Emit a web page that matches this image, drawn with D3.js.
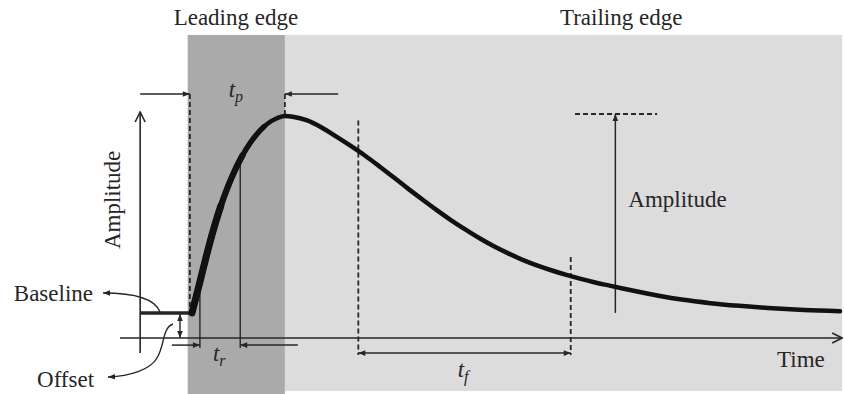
<!DOCTYPE html>
<html><head><meta charset="utf-8">
<script src="https://cdn.jsdelivr.net/npm/d3@7"></script>
<style>
html,body{margin:0;padding:0;background:#fff;}
svg{display:block;font-family:"Liberation Serif","Times New Roman",serif;}
</style></head><body>
<svg id="chart" width="844" height="394"></svg>
<script>
// Pulse waveform: time (arbitrary units) and amplitude (% of peak, measured from zero)
const time = [10.0, 11.0, 12.0, 13.0, 14.0, 15.0, 16.0, 17.0, 18.0, 19.0, 20.0, 21.0, 22.0, 22.9,
  24, 26, 28, 30, 32, 34, 36, 38, 40, 42, 44, 46, 48, 50, 52, 54, 56, 58, 60, 62, 64, 66, 68,
  70, 72, 75, 78, 82, 86, 90, 95, 100];
const amplitude = [11.3, 24.0, 37.0, 49.0, 59.5, 68.3, 75.8, 82.2, 87.5, 91.8, 95.2, 97.7, 99.3, 100.0,
  99.7, 98.0, 94.8, 90.8, 86.6, 82.2, 77.4, 72.4, 67.3, 62.4, 57.6, 53.0, 48.8, 44.8, 41.2, 38.0,
  35.1, 32.6, 30.4, 28.4, 26.6, 25.0, 23.6, 22.2, 20.8, 18.9, 17.3, 15.7, 14.5, 13.5, 12.6, 12.1];

const baselineLevel = 11.3;      // offset of the baseline above zero
const baselineStart = 2.8;
const leadingEdgeStart = 9.4;
const trailingEdgeEnd = 100.3;
const riseMarks = [11.1, 16.7];  // rise-time markers (t_r)
const fallMarks = [33.1, 62.6];  // fall-time markers (t_f)
const fallMarkTops = [98.0, 36.5];
const ampMarkTime = 68.8;
const regionNames = ["Leading edge", "Trailing edge"];
const regionLabelTimes = [16.1, 69.6];

const W = 844, H = 394;
const x = d3.scaleLinear().domain([0, 100]).range([120, 840]);
const y = d3.scaleLinear().domain([0, 100]).range([338, 116]);

const pulse = time.map((t, i) => ({t, a: amplitude[i]}));
const peak = pulse.reduce((m, d) => d.a > m.a ? d : m, pulse[0]);
const peakTime = peak.t, peakAmp = peak.a;

// value of the pulse at a given time (linear between samples)
function pulseAt(t) {
  const i = d3.bisector(d => d.t).left(pulse, t);
  if (i <= 0) return pulse[0].a;
  if (i >= pulse.length) return pulse[pulse.length - 1].a;
  const p0 = pulse[i - 1], p1 = pulse[i];
  return p0.a + (p1.a - p0.a) * (t - p0.t) / (p1.t - p0.t);
}

const ink = "#262626";
const svg = d3.select("#chart");
const defs = svg.append("defs");

defs.append("marker").attr("id", "tri")
  .attr("viewBox", "0 0 10 10").attr("refX", 10).attr("refY", 5)
  .attr("markerWidth", 8).attr("markerHeight", 7).attr("markerUnits", "userSpaceOnUse")
  .attr("orient", "auto-start-reverse")
  .append("path").attr("d", "M0,1 L10,5 L0,9 Z").attr("fill", ink);

defs.append("marker").attr("id", "chev")
  .attr("viewBox", "0 0 12 12").attr("refX", 11).attr("refY", 6)
  .attr("markerWidth", 12).attr("markerHeight", 12).attr("markerUnits", "userSpaceOnUse")
  .attr("orient", "auto")
  .append("path").attr("d", "M1,1 L11,6 L1,11").attr("fill", "none")
  .attr("stroke", ink).attr("stroke-width", 1.6);

// shaded regions
svg.append("rect")
  .attr("x", x(peakTime)).attr("y", y(136.5))
  .attr("width", x(trailingEdgeEnd) - x(peakTime)).attr("height", y(-23.9) - y(136.5))
  .attr("fill", "#dcdcdc");
svg.append("rect")
  .attr("x", x(leadingEdgeStart)).attr("y", y(136.5))
  .attr("width", x(peakTime) - x(leadingEdgeStart)).attr("height", y(-25.5) - y(136.5))
  .attr("fill", "#aaaaaa");

// region titles
svg.selectAll("text.region").data(regionNames).join("text")
  .attr("class", "region")
  .attr("x", (d, i) => x(regionLabelTimes[i])).attr("y", y(141))
  .attr("text-anchor", "middle").attr("font-size", 23).attr("fill", ink)
  .text(d => d);

function seg(x1, y1, x2, y2, opts = {}) {
  const l = svg.append("line")
    .attr("x1", x1).attr("y1", y1).attr("x2", x2).attr("y2", y2)
    .attr("stroke", ink).attr("stroke-width", opts.w || 1.5);
  if (opts.dash) l.attr("stroke-dasharray", opts.dash);
  if (opts.end) l.attr("marker-end", `url(#${opts.end})`);
  if (opts.start) l.attr("marker-start", `url(#${opts.start})`);
  return l;
}
const dash = "5,3";

// time axis and amplitude axis
seg(x(0), y(0), x(trailingEdgeEnd), y(0), {end: "chev", w: 1.6});
seg(x(baselineStart), y(-6.8), x(baselineStart), y(101.8), {end: "chev", w: 1.6});

// peak-time (t_p) markers
const tpY = y(109.9);
seg(x(leadingEdgeStart + 0.3), tpY, x(leadingEdgeStart + 0.3), y(baselineLevel), {dash, w: 1.8});
seg(x(peakTime), tpY, x(peakTime), y(peakAmp), {dash, w: 1.8});
seg(x(baselineStart), tpY, x(leadingEdgeStart + 0.3), tpY, {end: "tri"});
seg(x(30.3), tpY, x(peakTime), tpY, {end: "tri"});

// rise-time (t_r) markers
riseMarks.forEach(t => seg(x(t), y(pulseAt(t)), x(t), y(-4.5), {w: 1.4}));
seg(x(7.2), y(-3.2), x(riseMarks[0]), y(-3.2), {end: "tri"});
seg(x(24.7), y(-3.2), x(riseMarks[1]), y(-3.2), {end: "tri"});

// fall-time (t_f) markers
fallMarks.forEach((t, i) => seg(x(t), y(fallMarkTops[i]), x(t), y(-7.7), {dash, w: 1.8}));
seg(x(fallMarks[0]), y(-6.8), x(fallMarks[1]), y(-6.8), {start: "tri", end: "tri"});

// amplitude marker on the trailing edge
seg(x(63.2), y(100.9), x(74.6), y(100.9), {dash, w: 1.8});
seg(x(ampMarkTime), y(baselineLevel), x(ampMarkTime), y(100.9), {end: "tri"});

// offset between zero and baseline
seg(x(8.33), y(baselineLevel) + 1, x(8.33), y(0), {start: "tri", end: "tri", w: 1.4});

// baseline and pulse
seg(x(baselineStart), y(baselineLevel), x(time[0]), y(baselineLevel), {w: 3.5});
const line = d3.line().x(d => x(d.t)).y(d => y(d.a)).curve(d3.curveMonotoneX);
svg.append("path").datum(pulse).attr("d", line)
  .attr("fill", "none").attr("stroke", "#111").attr("stroke-width", 4.5)
  .attr("stroke-linejoin", "round").attr("stroke-linecap", "round");
// the steep rising part is drawn with a heavier, tapering stroke
[[20, 5.4], [17, 6.2], [14, 7]].forEach(([tEnd, w]) => {
  svg.append("path").datum(pulse.filter(d => d.t <= tEnd)).attr("d", line)
    .attr("fill", "none").attr("stroke", "#111").attr("stroke-width", w)
    .attr("stroke-linejoin", "round").attr("stroke-linecap", "round");
});

// callout arrows for Baseline and Offset
const P = (t, a) => `${x(t)},${y(a)}`;
svg.append("path")
  .attr("d", `M${P(5.56, 11.7)} C${P(4.86, 18)} ${P(2.08, 20.3)} ${P(-2.36, 20.3)}`)
  .attr("fill", "none").attr("stroke", ink).attr("stroke-width", 1.4).attr("marker-end", "url(#tri)");
svg.append("path")
  .attr("d", `M${P(7.36, 6.3)} C${P(5.83, 4.5)} ${P(6.25, -3.2)} ${P(5.14, -9.0)} C${P(4.17, -14.4)} ${P(1.39, -17.1)} ${P(-1.67, -17.6)}`)
  .attr("fill", "none").attr("stroke", ink).attr("stroke-width", 1.4).attr("marker-end", "url(#tri)");

// labels
function label(t, a, txt, anchor) {
  return svg.append("text").attr("x", x(t)).attr("y", y(a))
    .attr("text-anchor", anchor || "start").attr("font-size", 23).attr("fill", ink).text(txt);
}
label(-3.75, 16.7, "Baseline", "end");
label(-3.6, -22.1, "Offset", "end");
label(91.25, -13.1, "Time");
label(70.6, 59.0, "Amplitude");
svg.append("text")
  .attr("transform", `translate(${x(0)},${y(62.2)}) rotate(-90)`)
  .attr("text-anchor", "middle").attr("font-size", 23).attr("fill", ink).text("Amplitude");

function sub(t, a, sym) {
  const tx = svg.append("text").attr("x", x(t)).attr("y", y(a))
    .attr("font-size", 23).attr("font-style", "italic").attr("fill", ink);
  tx.append("tspan").text("t");
  tx.append("tspan").attr("font-size", 16).attr("dy", 5).text(sym);
}
sub(15.1, 108.6, "p");
sub(12.9, -10.4, "r");
sub(46.9, -17.6, "f");
</script>
</body></html>
